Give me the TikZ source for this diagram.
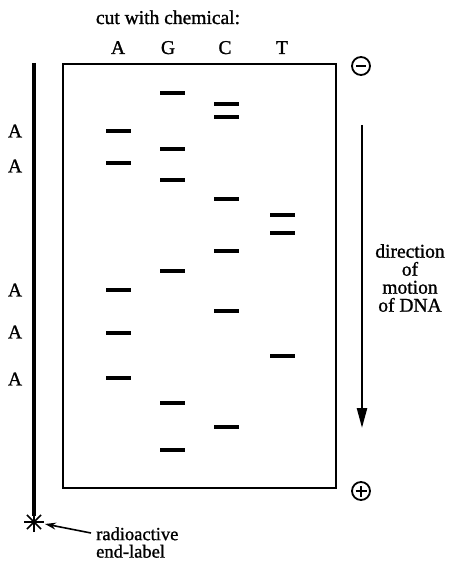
\documentclass[tikz,border=0pt]{standalone}
\usepackage{fontspec}
\setmainfont{Liberation Serif}[FakeBold=1.2]
\usetikzlibrary{arrows.meta}
\begin{document}
\begin{tikzpicture}[x=1pt,y=-1pt,
  lbl/.style={font=\fontsize{19.5}{18}\selectfont, inner sep=0pt, anchor=base},
  band/.style={line width=3.4pt},
  gel/.style={line width=2pt},
  pole/.style={circle, draw, line width=1.8pt, minimum size=18pt, inner sep=0pt}]
\useasboundingbox (0,0) rectangle (449,561);
% title and lane headers
\node[lbl] (title) at (168,24) {cut with chemical:};
\node[lbl] (hA) at (118,54) {A};
\node[lbl] (hG) at (168,54) {G};
\node[lbl] (hC) at (225,54) {C};
\node[lbl] (hT) at (282,54) {T};
% gel box
\draw[gel] (63,64) rectangle (336,488);
% DNA strand
\coordinate (s1) at (34,63);
\coordinate (star) at (34,522);
\draw[line width=4.2pt] (s1) -- (34,516);
\foreach \a in {0,45,90,135}{
  \draw[line width=1.6pt] (star) ++(\a:10) -- ++(\a+180:20);
}
% A labels at left
\foreach \y [count=\i] in {131,166,290,332,379}{
  \node[lbl, anchor=center] (la\i) at (15,\y) {A};
}
% bands
\foreach \y in {131,163,290,333,378}{ \draw[band] (106,\y) -- (131,\y); }
\foreach \y in {93,149,180,271,403,450}{ \draw[band] (160,\y) -- (185,\y); }
\foreach \y in {104,117,199,251,311,427}{ \draw[band] (214,\y) -- (239,\y); }
\foreach \y in {215,233,356}{ \draw[band] (270,\y) -- (295,\y); }
% electrodes
\node[pole] (minus) at (361,66) {};
\draw[line width=2.2pt] ([xshift=-5pt]minus.center) -- ([xshift=5pt]minus.center);
\node[pole] (plus) at (361,491) {};
\draw[line width=2.2pt] ([xshift=-5.5pt]plus.center) -- ([xshift=5.5pt]plus.center);
\draw[line width=2.2pt] ([yshift=-5.5pt]plus.center) -- ([yshift=5.5pt]plus.center);
% direction arrow
\coordinate (d1) at (362,125);
\coordinate (d2) at (362,428);
\draw[line width=2.4pt, -{Triangle[length=20pt,width=10pt]}] (d1) -- (d2);
\node[lbl, anchor=center, align=center] (dir) at (410,278) {direction\\of\\motion\\of DNA};
% end label
\node[lbl, anchor=south west, align=left, font=\fontsize{18.5}{17.5}\selectfont] (end) at (96,558) {radioactive\\end-label};
\coordinate (tail) at (91,533);
\coordinate (tip) at (45,524);
\draw[line width=1.6pt, -{Stealth[length=11pt,width=7pt]}] (tail) -- (tip);
\end{tikzpicture}
\end{document}
